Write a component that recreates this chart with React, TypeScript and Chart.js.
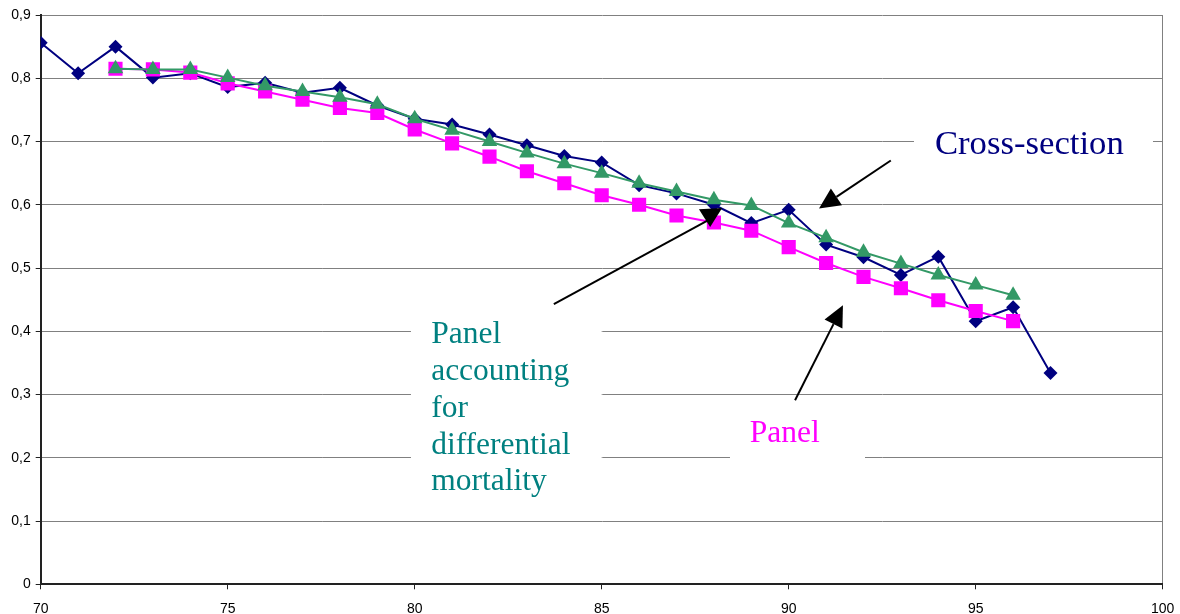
import React, { useEffect, useRef } from 'react';
import { Chart, registerables } from 'chart.js';

Chart.register(...registerables);

// ---- Data ----
const ages = [70, 71, 72, 73, 74, 75, 76, 77, 78, 79, 80, 81, 82, 83, 84, 85, 86, 87, 88, 89, 90, 91, 92, 93, 94, 95, 96, 97];
const crossSection = [0.856, 0.808, 0.850, 0.801, 0.808, 0.786, 0.793, 0.777, 0.785, 0.757, 0.736, 0.727, 0.711, 0.694, 0.677, 0.667, 0.631, 0.618, 0.600, 0.571, 0.592, 0.537, 0.517, 0.489, 0.518, 0.416, 0.438, 0.334];

const panelAges = [72, 73, 74, 75, 76, 77, 78, 79, 80, 81, 82, 83, 84, 85, 86, 87, 88, 89, 90, 91, 92, 93, 94, 95, 96];
const panelMortality = [0.815, 0.814, 0.814, 0.801, 0.788, 0.779, 0.770, 0.759, 0.736, 0.718, 0.700, 0.682, 0.665, 0.650, 0.634, 0.621, 0.608, 0.599, 0.571, 0.548, 0.525, 0.507, 0.489, 0.473, 0.457];
const panel = [0.815, 0.814, 0.809, 0.792, 0.779, 0.766, 0.753, 0.745, 0.719, 0.697, 0.676, 0.653, 0.634, 0.615, 0.600, 0.583, 0.572, 0.559, 0.533, 0.508, 0.486, 0.468, 0.449, 0.432, 0.416];

const xTicks = [70, 75, 80, 85, 90, 95, 100];
const yTicks = [0, 0.1, 0.2, 0.3, 0.4, 0.5, 0.6, 0.7, 0.8, 0.9];

// ---- Annotations (in data coordinates) ----
const SERIF = '"Liberation Serif", "Times New Roman", Times, serif';
const SANS = '"Liberation Sans", Arial, Helvetica, sans-serif';

const textLabels = [
  { lines: ['Cross-section'], color: '#000080', size: 34.7, x: 93.91, y: 0.681, lineGap: 0, box: [93.35, 0.733, 99.74, 0.654] },
  { lines: ['Panel', 'accounting', 'for', 'differential', 'mortality'], color: '#008080', size: 31.5, x: 80.44, y: 0.381, lineGap: 36.75, box: [79.9, 0.421, 85.0, 0.133] },
  { lines: ['Panel'], color: '#ff00ff', size: 31.5, x: 88.96, y: 0.225, lineGap: 0, box: [88.43, 0.275, 92.04, 0.177] },
];

const arrows = [
  { from: [92.73, 0.670], to: [90.81, 0.594] },
  { from: [90.17, 0.291], to: [91.45, 0.441] },
];
const oddArrowLine = { from: [83.72, 0.443], to: [87.95, 0.579] };
const oddArrowHead = [[87.60, 0.593], [88.22, 0.595], [87.90, 0.565]];

const annotationPlugin = {
  id: 'annotations',
  afterDatasetsDraw(chart: any) {
    const { ctx } = chart;
    const xs = chart.scales.x;
    const ys = chart.scales.y;
    const px = (v: number) => xs.getPixelForValue(v);
    const py = (v: number) => ys.getPixelForValue(v);
    ctx.save();
    for (const t of textLabels) {
      const [x0, y0, x1, y1] = t.box;
      ctx.fillStyle = '#ffffff';
      ctx.fillRect(px(x0), py(y0), px(x1) - px(x0), py(y1) - py(y0));
      ctx.fillStyle = t.color;
      ctx.font = `${t.size}px ${SERIF}`;
      ctx.textAlign = 'left';
      ctx.textBaseline = 'alphabetic';
      t.lines.forEach((line, i) => {
        ctx.fillText(line, px(t.x), py(t.y) + i * t.lineGap);
      });
    }
    ctx.strokeStyle = '#000000';
    ctx.fillStyle = '#000000';
    ctx.lineWidth = 2;
    const headLen = 21;
    const headHalf = 10;
    for (const a of arrows) {
      const fx = px(a.from[0]), fy = py(a.from[1]);
      const tx = px(a.to[0]), ty = py(a.to[1]);
      const ang = Math.atan2(ty - fy, tx - fx);
      const bx = tx - Math.cos(ang) * headLen;
      const by = ty - Math.sin(ang) * headLen;
      ctx.beginPath();
      ctx.moveTo(fx, fy);
      ctx.lineTo(bx, by);
      ctx.stroke();
      ctx.beginPath();
      ctx.moveTo(tx, ty);
      ctx.lineTo(bx + Math.sin(ang) * headHalf, by - Math.cos(ang) * headHalf);
      ctx.lineTo(bx - Math.sin(ang) * headHalf, by + Math.cos(ang) * headHalf);
      ctx.closePath();
      ctx.fill();
    }
    ctx.beginPath();
    ctx.moveTo(px(oddArrowLine.from[0]), py(oddArrowLine.from[1]));
    ctx.lineTo(px(oddArrowLine.to[0]), py(oddArrowLine.to[1]));
    ctx.stroke();
    ctx.beginPath();
    oddArrowHead.forEach((p, i) => {
      if (i === 0) ctx.moveTo(px(p[0]), py(p[1]));
      else ctx.lineTo(px(p[0]), py(p[1]));
    });
    ctx.closePath();
    ctx.fill();
    ctx.restore();
  },
};

export default function App() {
  const ref = useRef<HTMLCanvasElement>(null);
  useEffect(() => {
    if (!ref.current) return;
    const chart = new Chart(ref.current, {
      type: 'line',
      data: {
        datasets: [
          {
            label: 'Panel accounting for differential mortality',
            data: panelAges.map((a, i) => ({ x: a, y: panelMortality[i] })),
            borderColor: '#339966',
            backgroundColor: '#339966',
            borderWidth: 2,
            pointStyle: 'triangle',
            pointRadius: 9,
            pointBorderWidth: 0,
            pointBackgroundColor: '#339966',
            tension: 0,
            order: 1,
          },
          {
            label: 'Panel',
            data: panelAges.map((a, i) => ({ x: a, y: panel[i] })),
            borderColor: '#ff00ff',
            backgroundColor: '#ff00ff',
            borderWidth: 2,
            pointStyle: 'rect',
            pointRadius: 10,
            pointBorderWidth: 0,
            pointBackgroundColor: '#ff00ff',
            tension: 0,
            order: 2,
          },
          {
            label: 'Cross-section',
            data: ages.map((a, i) => ({ x: a, y: crossSection[i] })),
            borderColor: '#000080',
            backgroundColor: '#000080',
            borderWidth: 2,
            pointStyle: 'rectRot',
            pointRadius: 7,
            pointBorderWidth: 0,
            pointBackgroundColor: '#000080',
            tension: 0,
            order: 3,
          },
        ],
      },
      options: {
        responsive: false,
        animation: false,
        layout: { padding: { left: 0, right: 17.3, top: 15, bottom: 0 } },
        plugins: { legend: { display: false }, tooltip: { enabled: false } },
        scales: {
          x: {
            type: 'linear',
            min: 70,
            max: 100,
            afterBuildTicks: (s: any) => {
              s.ticks = xTicks.map((v) => ({ value: v }));
            },
            afterFit: (s: any) => {
              s.height = 29.7;
              s.paddingLeft = 0;
              s.paddingRight = 0;
            },
            ticks: {
              color: '#000000',
              font: { family: SANS, size: 14 },
              padding: 11,
              maxRotation: 0,
              autoSkip: false,
              callback: (v: any) => String(v),
            },
            grid: {
              color: (c: any) => (c.tick && c.tick.value === 100 ? '#808080' : 'rgba(0,0,0,0)'),
              tickColor: '#222222',
              tickLength: 5,
              lineWidth: 1,
            },
            border: { color: '#222222', width: 2 },
          },
          y: {
            type: 'linear',
            min: 0,
            max: 0.9,
            afterBuildTicks: (s: any) => {
              s.ticks = yTicks.map((v) => ({ value: v }));
            },
            afterFit: (s: any) => {
              s.width = 40.7;
            },
            ticks: {
              color: '#000000',
              font: { family: SANS, size: 14 },
              padding: 5,
              callback: (v: any) => (Number(v) === 0 ? '0' : Number(v).toFixed(1).replace('.', ',')),
            },
            grid: {
              color: '#808080',
              tickColor: '#222222',
              tickLength: 5,
              lineWidth: 1,
            },
            border: { color: '#222222', width: 2 },
          },
        },
      },
      plugins: [annotationPlugin],
    } as any);
    return () => chart.destroy();
  }, []);

  return (
    <div style={{ position: 'fixed', left: 0, top: 0, width: 1180, height: 614, background: '#ffffff' }}>
      <canvas ref={ref} width={1180} height={614} style={{ display: 'block' }} />
    </div>
  );
}
